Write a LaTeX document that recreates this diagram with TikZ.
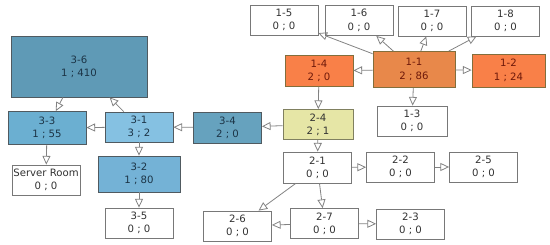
\documentclass[tikz,border=0pt]{standalone}
\usepackage{fontspec}
\setmainfont{DejaVu Sans}
\usetikzlibrary{arrows.meta}
\tikzset{every picture/.style={line width=0.75pt}}

\definecolor{boxline}{RGB}{120,120,120}
\definecolor{linkgray}{RGB}{130,130,130}
\definecolor{txtgray}{RGB}{50,50,50}
\definecolor{hotfill}{RGB}{249,128,72}
\definecolor{hotmid}{RGB}{232,136,74}
\definecolor{hotline}{RGB}{130,110,60}
\definecolor{hottext}{RGB}{110,25,10}
\definecolor{warmfill}{RGB}{230,230,166}
\definecolor{warmline}{RGB}{128,128,96}
\definecolor{coolline}{RGB}{80,90,96}
\definecolor{cooltext}{RGB}{28,52,70}
\definecolor{coolA}{RGB}{95,154,182}
\definecolor{coolB}{RGB}{107,175,209}
\definecolor{coolC}{RGB}{133,193,226}
\definecolor{coolD}{RGB}{102,162,190}
\definecolor{coolE}{RGB}{116,178,214}

\tikzset{
  room/.style={draw=boxline, fill=white, line width=0.6pt, align=center, inner sep=0pt,
    minimum width=51pt, minimum height=22.5pt, text=txtgray,
    font=\fontsize{7.6}{10}\selectfont},
  hot/.style={room, fill=hotfill, draw=hotline, text=hottext},
  warm/.style={room, fill=warmfill, draw=warmline},
  cool/.style={room, draw=coolline, text=cooltext},
  link/.style={draw=linkgray, line width=0.6pt, -{Triangle[open,length=6.5pt,width=6pt]}},
}

\begin{document}
\begin{tikzpicture}[x=0.75pt,y=0.75pt,yscale=-1,xscale=1]
\useasboundingbox (0,0) rectangle (550,245);

%Rooms, first group
\node[room] (r15) at (284,20) {1-5\\0 ; 0};
\node[room] (r16) at (359,20.5) {1-6\\0 ; 0};
\node[room] (r17) at (432,21) {1-7\\0 ; 0};
\node[room] (r18) at (505.5,21) {1-8\\0 ; 0};
\node[hot, fill=hotmid, minimum width=61.5pt, minimum height=27pt] (r11) at (414,69.5) {1-1\\2 ; 86};
\node[hot, minimum height=23.25pt] (r14) at (319,71) {1-4\\2 ; 0};
\node[hot, minimum width=54.75pt, minimum height=24.75pt] (r12) at (508.5,70.5) {1-2\\1 ; 24};
\node[room, minimum width=52.5pt] (r13) at (412,121) {1-3\\0 ; 0};

%Rooms, second group
\node[warm, minimum width=52.5pt] (r24) at (318,124.5) {2-4\\2 ; 1};
\node[room, minimum height=23.25pt] (r21) at (317.5,167.5) {2-1\\0 ; 0};
\node[room] (r22) at (400.5,167) {2-2\\0 ; 0};
\node[room] (r25) at (483.5,167) {2-5\\0 ; 0};
\node[room] (r27) at (324.5,223.5) {2-7\\0 ; 0};
\node[room] (r23) at (410.5,224) {2-3\\0 ; 0};
\node[room] (r26) at (237.5,226) {2-6\\0 ; 0};

%Rooms, third group
\node[cool, fill=coolA, minimum width=102pt, minimum height=45.75pt] (r36) at (79,66.5) {3-6\\1 ; 410};
\node[cool, fill=coolB, minimum width=58.5pt, minimum height=24.75pt] (r33) at (47,128) {3-3\\1 ; 55};
\node[cool, fill=coolC] (r31) at (139,127) {3-1\\3 ; 2};
\node[cool, fill=coolD, minimum height=23.25pt] (r34) at (227.5,127.5) {3-4\\2 ; 0};
\node[room] (srv) at (46,180) {Server Room\\0 ; 0};
\node[cool, fill=coolE, minimum width=61.5pt, minimum height=27pt] (r32) at (139,174) {3-2\\1 ; 80};
\node[room] (r35) at (139,223) {3-5\\0 ; 0};

%Links
\draw[link] (r11) -- (r15);
\draw[link] (r11) -- (r16);
\draw[link] (r11) -- (r17);
\draw[link] (r11) -- (r18);
\draw[link] (r11) -- (r14);
\draw[link] (r11) -- (r12);
\draw[link] (r11) -- (r13);
\draw[link] (r14) -- (r24);
\draw[link] (r24) -- (r21);
\draw[link] (r24) -- (r34);
\draw[link] (r34) -- (r31);
\draw[link] (r31) -- (r33);
\draw[link] (r31) -- (r36);
\draw[link] (r36) -- (r33);
\draw[link] (r33) -- (srv);
\draw[link] (r31) -- (r32);
\draw[link] (r32) -- (r35);
\draw[link] (r21) -- (r22);
\draw[link] (r22) -- (r25);
\draw[link] (r21) -- (r27);
\draw[link] (r21) -- (r26);
\draw[link] (r27) -- (r26);
\draw[link] (r27) -- (r23);
\end{tikzpicture}
\end{document}
